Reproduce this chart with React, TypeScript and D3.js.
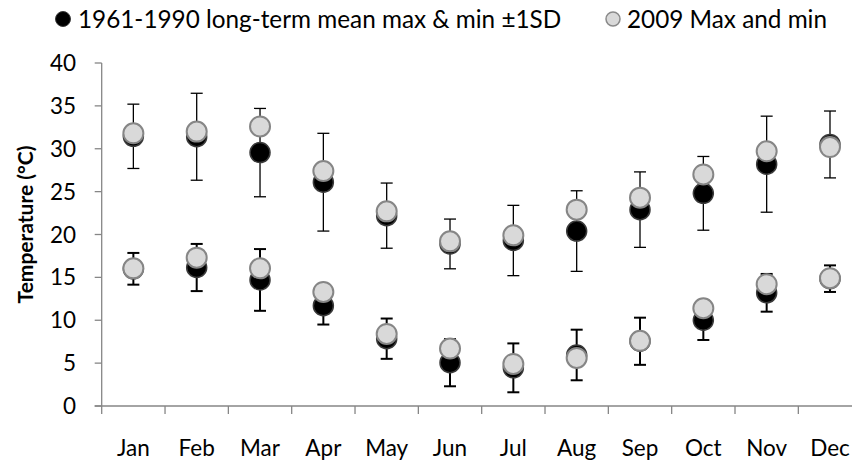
import React from "react";
import * as d3 from "d3";

const months = ["Jan", "Feb", "Mar", "Apr", "May", "Jun", "Jul", "Aug", "Sep", "Oct", "Nov", "Dec"];
const ltMaxMean = [31.45, 31.4, 29.55, 26.1, 22.2, 18.9, 19.3, 20.4, 22.9, 24.8, 28.2, 30.5];
const ltMaxSD = [3.75, 5.07, 5.15, 5.7, 3.8, 2.9, 4.1, 4.7, 4.4, 4.3, 5.6, 3.9];
const ltMinMean = [16.0, 16.15, 14.7, 11.7, 7.85, 5.05, 4.45, 5.95, 7.55, 10.0, 13.2, 14.85];
const ltMinSD = [1.85, 2.75, 3.6, 2.2, 2.35, 2.75, 2.85, 2.95, 2.75, 2.3, 2.2, 1.55];
const max2009 = [31.8, 32.0, 32.6, 27.4, 22.7, 19.2, 19.9, 22.9, 24.3, 27.0, 29.7, 30.2];
const min2009 = [16.05, 17.3, 16.05, 13.3, 8.4, 6.7, 4.9, 5.6, 7.6, 11.4, 14.2, 14.9];
const yTicks = [0, 5, 10, 15, 20, 25, 30, 35, 40];
const legendLabels = ["1961-1990 long-term mean max & min \u00b11SD", "2009 Max and min"];
const yTitle = "Temperature (\u00b0C)";

const W = 852;
const H = 464;
const FONT = "Lato, 'Open Sans', sans-serif";

export default function App() {
  const left = 101.7;
  const band = 63.33;
  const x = d3.scaleBand<string>().domain(months).range([left, left + band * months.length]).padding(0);
  const y = d3.scaleLinear().domain([0, 40]).range([406, 63]);
  const axisColor = "#868686";
  const cap = 6;
  const r = 10;

  const errBar = (m: string, mean: number, sd: number, w: number, key: string) => {
    const cx = (x(m) as number) + x.bandwidth() / 2;
    const y1 = y(mean + sd);
    const y2 = y(mean - sd);
    return (
      <g key={key} stroke="#000" strokeWidth={w}>
        <line x1={cx} x2={cx} y1={y1} y2={y2} />
        <line x1={cx - cap} x2={cx + cap} y1={y1} y2={y1} />
        <line x1={cx - cap} x2={cx + cap} y1={y2} y2={y2} />
      </g>
    );
  };

  const cxOf = (m: string) => (x(m) as number) + x.bandwidth() / 2;

  return (
    <svg width={W} height={H} style={{ position: "absolute", left: 0, top: 0, background: "#fff" }} fontFamily={FONT}>
      <rect x={0} y={0} width={W} height={H} fill="#fff" />
      {/* legend */}
      <g>
        <circle cx={63} cy={19} r={7.5} fill="#000" stroke="#3a3a3a" strokeWidth={1} />
        <text x={78} y={27.5} fontSize={24.3} fill="#000">{legendLabels[0]}</text>
        <circle cx={613} cy={19} r={7} fill="#d9d9d9" stroke="#8a8a8a" strokeWidth={1.5} />
        <text x={627} y={27.5} fontSize={24.3} fill="#000">{legendLabels[1]}</text>
      </g>
      {/* y axis */}
      <line x1={left} x2={left} y1={y(40)} y2={y(0)} stroke={axisColor} strokeWidth={1.3} />
      {yTicks.map((t) => (
        <g key={"yt" + t}>
          <line x1={left - 7} x2={left} y1={y(t)} y2={y(t)} stroke={axisColor} strokeWidth={1.3} />
          <text x={76} y={y(t)} dy="0.36em" textAnchor="end" fontSize={22.5} fill="#000">{t}</text>
        </g>
      ))}
      <text
        transform={`translate(${25},${y(20) - 10}) rotate(-90)`}
        textAnchor="middle"
        dy="0.36em"
        fontSize={21}
        fontWeight="bold"
        fill="#000"
      >
        {yTitle}
      </text>
      {/* x axis */}
      <line x1={left - 7} x2={W} y1={y(0)} y2={y(0)} stroke={axisColor} strokeWidth={1.3} />
      {months.map((m) => (
        <g key={"xt" + m}>
          <line x1={x(m) as number} x2={x(m) as number} y1={y(0)} y2={y(0) + 8} stroke={axisColor} strokeWidth={1.3} />
          <text x={cxOf(m)} y={456} textAnchor="middle" fontSize={22.5} fill="#000">{m}</text>
        </g>
      ))}
      {/* error bars */}
      {months.map((m, i) => errBar(m, ltMaxMean[i], ltMaxSD[i], 1.3, "emax" + m))}
      {months.map((m, i) => errBar(m, ltMinMean[i], ltMinSD[i], 2, "emin" + m))}
      {/* long-term means */}
      {months.map((m, i) => (
        <g key={"lt" + m}>
          <circle cx={cxOf(m)} cy={y(ltMaxMean[i])} r={r} fill="#000" stroke="#3a3a3a" strokeWidth={1.5} />
          <circle cx={cxOf(m)} cy={y(ltMinMean[i])} r={r} fill="#000" stroke="#3a3a3a" strokeWidth={1.5} />
        </g>
      ))}
      {/* 2009 */}
      {months.map((m, i) => (
        <g key={"y9" + m}>
          <circle cx={cxOf(m)} cy={y(max2009[i])} r={r} fill="#d9d9d9" stroke="#868686" strokeWidth={2} />
          <circle cx={cxOf(m)} cy={y(min2009[i])} r={r} fill="#d9d9d9" stroke="#868686" strokeWidth={2} />
        </g>
      ))}
    </svg>
  );
}
